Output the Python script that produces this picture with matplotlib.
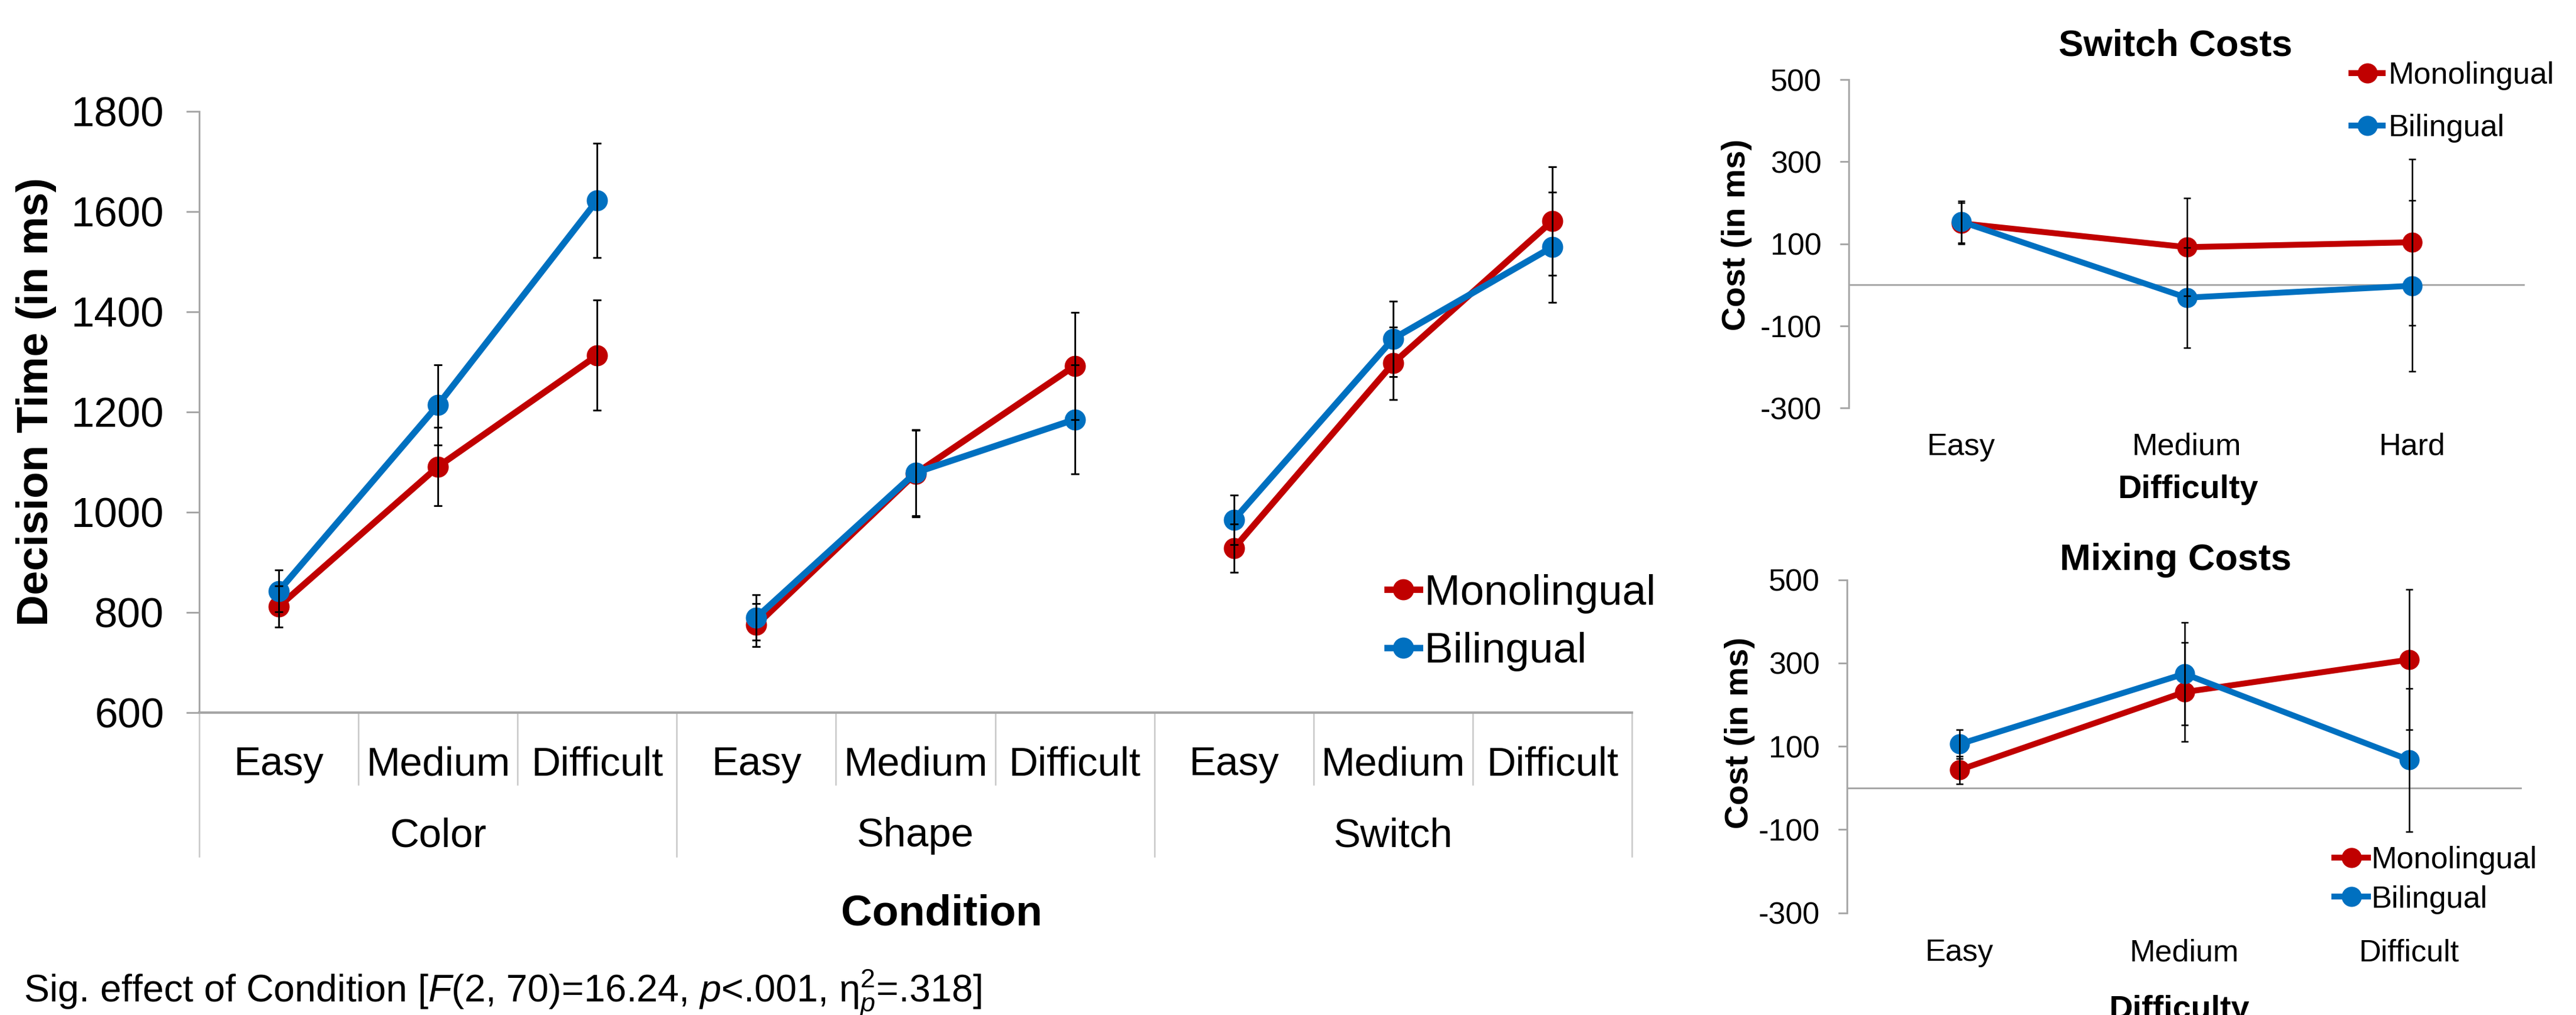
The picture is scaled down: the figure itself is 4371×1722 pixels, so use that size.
import matplotlib
matplotlib.use("Agg")
import matplotlib.pyplot as plt
from matplotlib import transforms
from matplotlib.lines import Line2D

plt.rcParams['font.family'] = ['Liberation Sans', 'DejaVu Sans']
plt.rcParams['mathtext.fontset'] = 'custom'
plt.rcParams['mathtext.rm'] = 'Liberation Sans'
plt.rcParams['mathtext.it'] = 'Liberation Sans:italic'
plt.rcParams['mathtext.bf'] = 'Liberation Sans:bold'
plt.rcParams['axes.unicode_minus'] = False

# Decision times (ms) per condition x difficulty
conditions = ['Color', 'Shape', 'Switch']
difficulty = ['Easy', 'Medium', 'Difficult']
mono_rt = [812, 1091, 1313, 775, 1077, 1292, 928, 1297, 1581]
mono_rt_err = [41, 78, 110, 43, 86, 107, 48, 72, 108]
bi_rt = [843, 1214, 1622, 790, 1079, 1185, 985, 1346, 1529]
bi_rt_err = [42, 80, 114, 45, 86, 109, 49, 75, 110]

# Switch costs (ms)
switch_levels = ['Easy', 'Medium', 'Hard']
mono_switch = [150, 92, 104]
mono_switch_err = [50, 119, 203]
bi_switch = [154, -31, -2]
bi_switch_err = [51, 122, 208]

# Mixing costs (ms)
mix_levels = ['Easy', 'Medium', 'Difficult']
mono_mix = [43, 230, 308]
mono_mix_err = [33, 119, 168]
bi_mix = [105, 274, 67]
bi_mix_err = [35, 123, 172]

RED = '#C00000'
BLUE = '#0070C0'
AXIS_GREY = '#A6A6A6'
SEP_GREY = '#C8C8C8'

W, H = 4371, 1722
fig = plt.figure(figsize=(W / 300, H / 300), dpi=300)


def fx(x):
    return x / W


def fy(y):
    return 1 - y / H


def rect(left, top, right, bottom):
    return [fx(left), fy(bottom), (right - left) / W, (bottom - top) / H]


# ---------------- main panel ----------------
ax = fig.add_axes(rect(338, 188.6, 2769, 1209.3))
lw_main, ms_main = 2.6, 7.6
for g in range(3):
    xs = [g * 3 + k + 0.5 for k in range(3)]
    sl = slice(g * 3, g * 3 + 3)
    ax.plot(xs, mono_rt[sl], color=RED, lw=lw_main, marker='o', ms=ms_main, zorder=3)
    ax.plot(xs, bi_rt[sl], color=BLUE, lw=lw_main, marker='o', ms=ms_main, zorder=3)
xs_all = [i + 0.5 for i in range(9)]
ax.errorbar(xs_all, mono_rt, yerr=mono_rt_err, fmt='none', ecolor='black',
            elinewidth=0.7, capsize=1.6, capthick=0.7, zorder=4)
ax.errorbar(xs_all, bi_rt, yerr=bi_rt_err, fmt='none', ecolor='black',
            elinewidth=0.7, capsize=1.6, capthick=0.7, zorder=4)

ax.set_xlim(0, 9)
ax.set_ylim(600, 1800)
ax.set_yticks(range(600, 1801, 200))
ax.set_xticks([])
ax.tick_params(axis='y', labelsize=17, length=5.3, width=0.7, color=AXIS_GREY, pad=9)
for s in ['top', 'right']:
    ax.spines[s].set_visible(False)
ax.spines['left'].set_color(AXIS_GREY)
ax.spines['left'].set_linewidth(0.7)
ax.spines['bottom'].set_color(AXIS_GREY)
ax.spines['bottom'].set_linewidth(1.0)

# multi-level category axis
trans = transforms.blended_transform_factory(ax.transData, ax.transAxes)
ax_h = 1209.3 - 188.6
inner_y = -(1331.5 - 1209.3) / ax_h
outer_y = -(1453 - 1209.3) / ax_h
for b in range(10):
    y_end = outer_y if b % 3 == 0 else inner_y
    ax.add_line(Line2D([b, b], [0, y_end], transform=trans, color=SEP_GREY,
                       lw=0.6, clip_on=False))
for i in range(9):
    ax.text(i + 0.5, -(1315 - 1209.3) / ax_h, difficulty[i % 3], transform=trans,
            ha='center', va='baseline', fontsize=16.5)
for g, name in enumerate(conditions):
    ax.text(g * 3 + 1.5, -(1436.4 - 1209.3) / ax_h, name, transform=trans,
            ha='center', va='baseline', fontsize=16.5)

fig.text(fx(62), fy(681.5), 'Decision Time (in ms)', rotation=90, ha='center',
         va='center', fontsize=17.7, fontweight='bold')
fig.text(fx(1598), fy(1569.5), 'Condition', ha='center', va='baseline',
         fontsize=17.6, fontweight='bold')
fig.text(fx(40), fy(1699), r'Sig. effect of Condition [$F$(2, 70)=16.24, $p$<.001, η$_p^2$=.318]',
         ha='left', va='baseline', fontsize=15.5)

h_mono = Line2D([], [], color=RED, lw=lw_main, marker='o', ms=ms_main)
h_bi = Line2D([], [], color=BLUE, lw=lw_main, marker='o', ms=ms_main)
fig.legend([h_mono, h_bi], ['Monolingual', 'Bilingual'], loc='upper left',
           bbox_to_anchor=(fx(2354), fy(974)), bbox_transform=fig.transFigure,
           frameon=False, borderpad=0, borderaxespad=0, handlelength=0.75,
           handletextpad=0.12, labelspacing=0.43, fontsize=17.5)


# ---------------- cost panels ----------------
def cost_panel(box, levels, mono, mono_err, bi, bi_err, xpad):
    a = fig.add_axes(rect(*box))
    x = list(range(len(levels)))
    a.axhline(0, color=AXIS_GREY, lw=0.7, zorder=1)
    a.plot(x, mono, color=RED, lw=2.4, marker='o', ms=7.2, zorder=3)
    a.plot(x, bi, color=BLUE, lw=2.4, marker='o', ms=7.2, zorder=3)
    a.errorbar(x, mono, yerr=mono_err, fmt='none', ecolor='black',
               elinewidth=0.6, capsize=1.5, capthick=0.6, zorder=4)
    a.errorbar(x, bi, yerr=bi_err, fmt='none', ecolor='black',
               elinewidth=0.6, capsize=1.5, capthick=0.6, zorder=4)
    a.set_xlim(-0.5, len(levels) - 0.5)
    a.set_ylim(-300, 500)
    a.set_yticks(range(-300, 501, 200))
    a.set_xticks(x)
    a.set_xticklabels(levels)
    a.tick_params(axis='y', labelsize=12.5, length=3.7, width=0.7,
                  color=AXIS_GREY, pad=7.4)
    a.tick_params(axis='x', labelsize=12.5, length=0, pad=xpad)
    for s in ['top', 'right', 'bottom']:
        a.spines[s].set_visible(False)
    a.spines['left'].set_color(AXIS_GREY)
    a.spines['left'].set_linewidth(0.7)
    return a


cost_panel((3137, 135.2, 4284, 692.3), switch_levels,
           mono_switch, mono_switch_err, bi_switch, bi_switch_err, 10)
cost_panel((3134, 983.5, 4279, 1548.5), mix_levels,
           mono_mix, mono_mix_err, bi_mix, bi_mix_err, 10.5)

fig.text(fx(3691), fy(94.4), 'Switch Costs', ha='center', va='baseline',
         fontsize=15.2, fontweight='bold')
fig.text(fx(3692), fy(966.8), 'Mixing Costs', ha='center', va='baseline',
         fontsize=15.2, fontweight='bold')
fig.text(fx(2947), fy(398), 'Cost (in ms)', rotation=90, ha='center',
         va='center', fontsize=13.5, fontweight='bold')
fig.text(fx(2952), fy(1243), 'Cost (in ms)', rotation=90, ha='center',
         va='center', fontsize=13.5, fontweight='bold')
fig.text(fx(3713), fy(845), 'Difficulty', ha='center', va='baseline',
         fontsize=13.4, fontweight='bold')
fig.text(fx(3698), fy(1728), 'Difficulty', ha='center', va='baseline',
         fontsize=13.4, fontweight='bold')

hs_mono = Line2D([], [], color=RED, lw=2.4, marker='o', ms=7.2)
hs_bi = Line2D([], [], color=BLUE, lw=2.4, marker='o', ms=7.2)
fig.legend([hs_mono, hs_bi], ['Monolingual', 'Bilingual'], loc='upper left',
           bbox_to_anchor=(fx(3990), fy(104)), bbox_transform=fig.transFigure,
           frameon=False, borderpad=0, borderaxespad=0, handlelength=1.02,
           handletextpad=0.19, labelspacing=0.77, fontsize=12.5)
fig.legend([hs_mono, hs_bi], ['Monolingual', 'Bilingual'], loc='upper left',
           bbox_to_anchor=(fx(3961), fy(1435)), bbox_transform=fig.transFigure,
           frameon=False, borderpad=0, borderaxespad=0, handlelength=1.1,
           handletextpad=0.1, labelspacing=0.34, fontsize=12.5)

fig.savefig('out.png', dpi=300)
